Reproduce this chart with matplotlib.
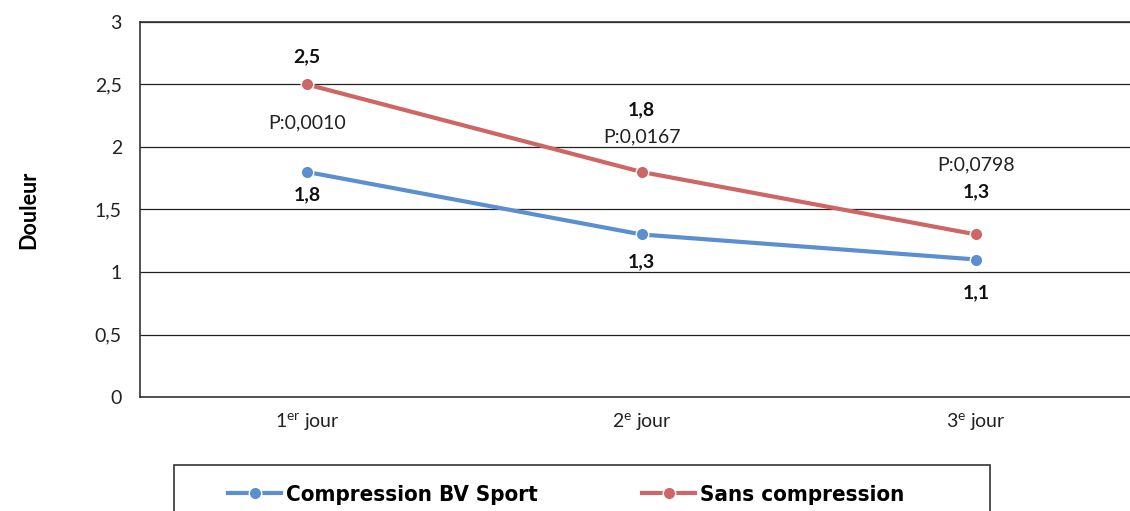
import matplotlib.pyplot as plt
from matplotlib.patches import Rectangle
import numpy as np

plt.rcParams['font.family'] = ['Lato', 'DejaVu Sans']
plt.rcParams['mathtext.fontset'] = 'custom'
plt.rcParams['mathtext.rm'] = 'Lato'

jours = [r'1$^{\mathrm{er}}$ jour', r'2$^{\mathrm{e}}$ jour', r'3$^{\mathrm{e}}$ jour']
bv_sport = [1.8, 1.3, 1.1]
sans_comp = [2.5, 1.8, 1.3]
p_values = ['P:0,0010', 'P:0,0167', 'P:0,0798']

blue = '#5B8FD0'
red = '#CD6664'

W, H = 1130, 511
fig = plt.figure(figsize=(W/100, H/100), dpi=100)
ax = fig.add_axes([140/W, 1-397/H, 1003.5/W, 375/H])

x = np.arange(len(jours))
ax.plot(x, bv_sport, color=blue, lw=3, marker='o', ms=9, mec='white', mew=1,
        label='Compression BV Sport', zorder=3)
ax.plot(x, sans_comp, color=red, lw=3, marker='o', ms=9, mec='white', mew=1,
        label='Sans compression', zorder=3)

ax.set_xlim(-0.5, 2.5)
ax.set_ylim(0, 3)
ax.set_yticks(np.arange(0, 3.01, 0.5))
ax.set_yticklabels(['0', '0,5', '1', '1,5', '2', '2,5', '3'])
ax.set_xticks(x)
ax.set_xticklabels(jours)
ax.tick_params(length=0, labelsize=14, colors='#222222', pad=10)
ax.tick_params(axis='y', pad=13)
ax.grid(axis='y', color='#222222', lw=0.9)
ax.set_axisbelow(True)
for s in ax.spines.values():
    s.set_color('#333333')
    s.set_linewidth(1.2)
ax.set_ylabel('Douleur', fontsize=15.5, fontweight='bold', labelpad=40)

def fmt(v):
    return ('%.1f' % v).replace('.', ',')

# value labels (offsets in pixels converted to points)
red_off = [28, 62, 43]
blue_off = [-23, -27, -33]
for i in range(3):
    ax.annotate(fmt(sans_comp[i]), (x[i], sans_comp[i]), xytext=(0, red_off[i] * 0.72),
                textcoords='offset points', ha='center', va='center',
                fontsize=14, fontweight='bold', color='#111111')
    ax.annotate(fmt(bv_sport[i]), (x[i], bv_sport[i]), xytext=(0, blue_off[i] * 0.72),
                textcoords='offset points', ha='center', va='center',
                fontsize=14, fontweight='bold', color='#111111')

p_y = [123, 137, 165]
for i in range(3):
    fig.text((140 + 334.5 * (i + 0.5)) / W, 1 - p_y[i] / H, p_values[i],
             ha='center', va='center', fontsize=14, color='#222222')

# legend box (runs off the bottom of the image)
fig.patches.append(Rectangle((174/W, -0.1), (990-174)/W, 0.1 + 1-465/H,
                             transform=fig.transFigure, fill=False,
                             edgecolor='#333333', lw=1.2))
leg = fig.legend(loc='center left', bbox_to_anchor=(228/W, 1-495/H), ncol=2,
                 frameon=False, handlelength=2.4, columnspacing=4.7,
                 borderpad=0, handletextpad=0.2, borderaxespad=0,
                 prop={'family': ['DejaVu Sans'], 'stretch': 'condensed',
                       'weight': 'bold', 'size': 16})

fig.savefig('out.png', dpi=100)
